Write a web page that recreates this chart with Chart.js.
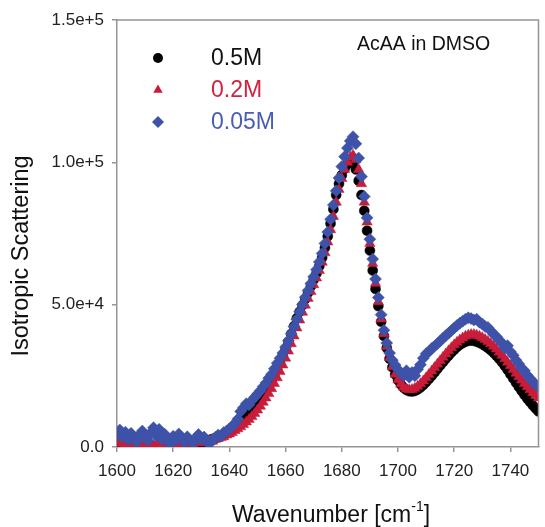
<!DOCTYPE html>
<html>
<head>
<meta charset="utf-8">
<script src="https://cdn.jsdelivr.net/npm/chart.js@4.4.1/dist/chart.umd.min.js"></script>
<style>
  html, body { margin: 0; padding: 0; background: #fff; }
  #wrap { position: relative; width: 545px; height: 527px; }
</style>
</head>
<body>
<div id="wrap"><canvas id="chart" width="545" height="527"></canvas></div>
<script>
// --- data ---
const wavenumbers = [
  1600,1601,1602,1603,1604,1605,1606,1607,1608,1609,1610,1611,1612,1613,1614,1615,1616,1617,1618,1619,
  1620,1621,1622,1623,1624,1625,1626,1627,1628,1629,1630,1631,1632,1633,1634,1635,1636,1637,1638,1639,
  1640,1641,1642,1643,1644,1645,1646,1647,1648,1649,1650,1651,1652,1653,1654,1655,1656,1657,1658,1659,
  1660,1661,1662,1663,1664,1665,1666,1667,1668,1669,1670,1671,1672,1673,1674,1675,1676,1677,1678,1679,
  1680,1681,1682,1683,1684,1685,1686,1687,1688,1689,1690,1691,1692,1693,1694,1695,1696,1697,1698,1699,
  1700,1701,1702,1703,1704,1705,1706,1707,1708,1709,1710,1711,1712,1713,1714,1715,1716,1717,1718,1719,
  1720,1721,1722,1723,1724,1725,1726,1727,1728,1729,1730,1731,1732,1733,1734,1735,1736,1737,1738,1739,
  1740,1741,1742,1743,1744,1745,1746,1747,1748,1749,1750
];

// 0.5M
const conc05 = [
  800,400,300,200,300,200,100,200,300,200,100,200,300,200,300,400,300,400,500,400,
  500,600,500,700,800,900,1000,1100,1300,1500,1700,1900,2200,2500,2800,3100,3500,3900,4400,4900,
  5500,6200,6900,7700,8500,9400,10400,11400,12500,13700,15000,16400,17900,19500,21200,23000,25000,27200,29500,32000,
  34500,37000,39700,42400,45200,47500,49800,52000,54200,56500,58800,61000,63500,66500,70000,74000,78500,83500,88500,92500,
  95500,97800,99300,100200,100000,97500,93500,88500,83000,76000,69000,62000,55500,49500,44000,39000,34800,31000,28000,25500,
  23500,22000,20800,20000,19600,19500,19700,20200,20900,21800,22800,23900,25000,26200,27400,28600,29800,31000,32100,33200,
  34200,35100,35900,36500,37000,37300,37400,37300,37000,36600,36100,35500,34800,34000,33100,32100,31000,29800,28500,27100,
  25600,24100,22600,21100,19700,18300,17000,15800,14600,13500,12500
];

// 0.2M
const conc02 = [
  1500,2200,1200,900,1600,700,1100,600,1300,800,500,1200,700,400,1000,600,1400,800,500,1100,
  700,1300,900,1500,800,1200,1600,1000,2200,1400,1800,1500,2100,2400,2000,2700,3000,3300,3600,4200,
  4600,5100,5800,6400,7100,7900,8800,9700,10700,11800,13000,14300,15700,17200,18800,20500,22300,24300,26500,28800,
  31200,33700,36300,39000,41800,44600,47300,49800,52200,54600,57000,59400,62000,64900,68200,72000,76300,81000,86000,90500,
  94300,97500,100000,101800,102500,101000,97500,92500,86000,79000,71500,64500,57500,51000,45000,39800,35300,31400,28200,25600,
  23600,22100,21000,20400,20100,20200,20600,21300,22200,23200,24300,25500,26700,27900,29100,30300,31500,32700,33800,34900,
  35900,36800,37600,38300,38900,39300,39500,39500,39300,38900,38400,37800,37100,36300,35400,34400,33300,32200,31000,29800,
  28500,27200,25900,24700,23500,22300,21200,20100,19100,18100,17200
];

// 0.05M
const conc005 = [
  4500,6000,3500,5200,2600,4800,3000,1800,4200,5600,3300,2400,5000,6800,3900,6200,2800,4500,2000,1200,
  3800,2500,4600,3100,1700,3600,2200,1500,3200,4400,2700,3500,1900,1200,2600,3400,4200,3800,5100,5600,
  6300,7400,8200,9800,12500,13800,15200,14800,16300,17500,18600,19800,21200,22500,24200,25600,27500,29400,31200,33000,
  35100,37400,39800,42300,44900,47500,50100,52600,55000,57400,59800,62300,65000,68000,71500,75500,80000,85000,90000,94500,
  98500,102000,105000,107500,109000,106500,101500,95000,88000,80500,73000,66000,59000,52500,46500,41000,36500,33000,30500,28800,
  27200,26000,25000,26800,24500,26200,25000,27300,28900,31200,32800,33500,34600,35400,36300,37200,38200,39100,40000,40900,
  41800,42700,43500,44200,44900,45400,45100,44600,44900,43800,43200,42300,42000,40800,39600,38800,37500,36600,34800,35600,
  33500,32200,30500,29200,27600,26800,25200,24100,22800,22000,21000
];

const seriesLabels = ['0.5M', '0.2M', '0.05M'];
const seriesColors = ['#000000', '#c81d3a', '#3d52a8'];
const labelColors = ['#111111', '#d0223e', '#4a5db5'];
const seriesShapes = ['circle', 'triangle', 'rectRot'];
const xTicks = [1600, 1620, 1640, 1660, 1680, 1700, 1720, 1740];
const yTicks = [0, 50000, 100000, 150000];
const yTickLabels = ['0.0', '5.0e+4', '1.0e+5', '1.5e+5'];
const annotationText = 'AcAA in DMSO';

const FONT = '"Liberation Sans", Arial, sans-serif';
const AXIS_GRAY = '#959595';

function toPoints(ys) {
  return wavenumbers.map((x, i) => ({ x: x, y: ys[i] }));
}

const seriesData = [conc05, conc02, conc005];
const radii = [5, 6, 6];

const datasets = seriesData.map((ys, i) => ({
  label: seriesLabels[i],
  data: toPoints(ys),
  pointStyle: seriesShapes[i],
  pointRadius: radii[i],
  pointBackgroundColor: seriesColors[i],
  pointBorderColor: seriesColors[i],
  pointBorderWidth: 0.5,
  showLine: false,
  order: 3 - i // blue on top
}));

// frame, legend, annotation and axis titles
const decorPlugin = {
  id: 'decor',
  afterDraw(chart) {
    const c = chart.ctx;
    const a = chart.chartArea;
    c.save();
    c.strokeStyle = AXIS_GRAY;
    c.lineWidth = 1.5;
    c.beginPath();
    c.moveTo(a.left, a.top);
    c.lineTo(a.right, a.top);
    c.lineTo(a.right, a.bottom);
    c.stroke();

    // legend
    const legY = [58, 90, 122];
    const legR = [5, 5.5, 6];
    c.font = '23px ' + FONT;
    c.textBaseline = 'middle';
    c.textAlign = 'left';
    seriesLabels.forEach((lab, i) => {
      c.fillStyle = seriesColors[i];
      c.strokeStyle = seriesColors[i];
      Chart.helpers.drawPoint(c, {
        pointStyle: seriesShapes[i], radius: legR[i], rotation: 0, borderWidth: 0
      }, 158, legY[i]);
      c.fillStyle = labelColors[i];
      c.fillText(lab, 211, legY[i] + 1);
    });

    // annotation
    c.fillStyle = '#111';
    c.font = '19.5px ' + FONT;
    c.fillText(annotationText, 357, 45);

    // x title with superscript
    c.font = '23px ' + FONT;
    const main = 'Wavenumber [cm';
    const sup = '-1';
    const tail = ']';
    const wMain = c.measureText(main).width;
    const wTail = c.measureText(tail).width;
    c.font = '14px ' + FONT;
    const wSup = c.measureText(sup).width;
    const total = wMain + wSup + wTail;
    const x0 = 331 - total / 2;
    const yT = 516;
    c.font = '23px ' + FONT;
    c.fillText(main, x0, yT);
    c.font = '14px ' + FONT;
    c.fillText(sup, x0 + wMain, yT - 9);
    c.font = '23px ' + FONT;
    c.fillText(tail, x0 + wMain + wSup, yT);

    // y title
    c.translate(22, 256);
    c.rotate(-Math.PI / 2);
    c.textAlign = 'center';
    c.font = '23.5px ' + FONT;
    c.fillText('Isotropic Scattering', 0, 0);
    c.restore();
  }
};

new Chart(document.getElementById('chart').getContext('2d'), {
  type: 'scatter',
  data: { datasets: datasets },
  options: {
    responsive: false,
    animation: false,
    devicePixelRatio: 1,
    layout: { padding: { top: 20, right: 1, left: 0, bottom: 0 } },
    plugins: {
      legend: { display: false },
      tooltip: { enabled: false }
    },
    scales: {
      x: {
        type: 'linear',
        min: 1600,
        max: 1750,
        afterFit: s => { s.height = 80; },
        afterBuildTicks: s => { s.ticks = xTicks.map(v => ({ value: v })); },
        ticks: {
          color: '#222',
          font: { family: FONT, size: 17 },
          padding: 9,
          maxRotation: 0,
          callback: v => String(v)
        },
        grid: { drawOnChartArea: false, drawTicks: true, tickLength: 5, color: AXIS_GRAY, lineWidth: 1.5 },
        border: { display: true, color: AXIS_GRAY, width: 1.5 }
      },
      y: {
        type: 'linear',
        min: 0,
        max: 150000,
        afterFit: s => { s.width = 117; },
        afterBuildTicks: s => { s.ticks = yTicks.map(v => ({ value: v })); },
        ticks: {
          color: '#222',
          font: { family: FONT, size: 17 },
          padding: 8,
          callback: v => yTickLabels[yTicks.indexOf(v)]
        },
        grid: { drawOnChartArea: false, drawTicks: true, tickLength: 5, color: AXIS_GRAY, lineWidth: 1.5 },
        border: { display: true, color: AXIS_GRAY, width: 1.5 }
      }
    }
  },
  plugins: [decorPlugin]
});
</script>
</body>
</html>
